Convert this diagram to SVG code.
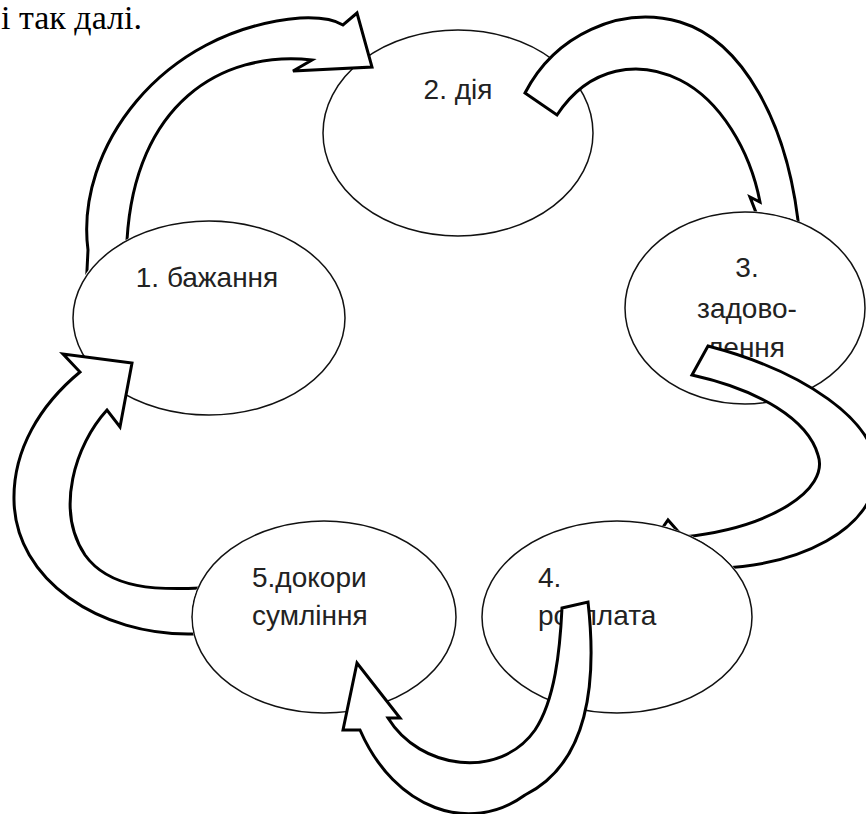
<svg xmlns="http://www.w3.org/2000/svg" width="866" height="814" viewBox="0 0 866 814">
<style>
.node ellipse{fill:#fff;stroke:#111;stroke-width:1.5}
.lbl{font-family:"Liberation Sans",Arial,sans-serif;font-size:28px;fill:#222}
.arr path{fill:#fff;stroke:#000;stroke-width:3;stroke-linejoin:miter}
.title{font-family:"Liberation Serif","Times New Roman",serif;font-size:34px;fill:#000}
</style>
<defs>
<clipPath id="c1"><path clip-rule="evenodd" d="M0,0H866V814H0Z M71,318 a138,98 0 1,0 276,0 a138,98 0 1,0 -276,0Z"/></clipPath>
<clipPath id="c3"><path clip-rule="evenodd" d="M0,0H866V814H0Z M624,308 a121,97 0 1,0 242,0 a121,97 0 1,0 -242,0Z"/></clipPath>
<clipPath id="c4"><path clip-rule="evenodd" d="M0,0H866V814H0Z M481,617 a136,97 0 1,0 272,0 a136,97 0 1,0 -272,0Z"/></clipPath>
<clipPath id="c5"><path clip-rule="evenodd" d="M0,0H866V814H0Z M191,617 a133,97 0 1,0 266,0 a133,97 0 1,0 -266,0Z"/></clipPath>
</defs>
<rect width="866" height="814" fill="#fff"/>
<text class="title" x="1" y="29">і так далі.</text>
<g id="node2" class="node"><ellipse cx="458" cy="133" rx="135" ry="103"/><text class="lbl" x="458" y="99" text-anchor="middle">2. дія</text></g>
<g id="node1" class="node"><ellipse cx="209" cy="318" rx="136" ry="97"/><text class="lbl" x="207" y="287" text-anchor="middle">1. бажання</text></g>
<g id="node3" class="node"><ellipse cx="745" cy="308" rx="120" ry="96"/><text class="lbl" x="747" y="277" text-anchor="middle">3.</text><text class="lbl" x="747" y="318" text-anchor="middle">задово-</text><text class="lbl" x="746" y="357" text-anchor="middle">лення</text></g>
<g id="node4" class="node"><ellipse cx="617" cy="617" rx="135" ry="96"/><text class="lbl" x="538" y="587">4.</text><text class="lbl" x="538" y="625">розплата</text></g>
<g id="node5" class="node"><ellipse cx="324" cy="617" rx="132" ry="96"/><text class="lbl" x="252" y="587">5.докори</text><text class="lbl" x="252" y="625">сумління</text></g>
<g id="connectors" class="arr">
<path clip-path="url(#c1)" d="M86,290 L88,250 C75,150 160,30 300,18 C320,17 335,20 343,25 L357,13 L372,67 L293,71 L312,60 C220,50 135,105 127,240 L126,290 Z"/>
<path clip-path="url(#c3)" d="M525,93 C555,35 620,5 680,22 C740,40 790,120 800,240 L830,250 L790,300 L750,197 L760,202 C750,150 720,100 680,80 C640,60 590,65 557,115 Z"/>
<path clip-path="url(#c4)" d="M708,346 C800,370 880,420 876,475 C872,530 800,565 720,568 L725,592 L640,560 L668,520 L683,537 C770,528 830,490 818,455 C808,420 760,390 692,375 Z"/>
<path d="M562,608 L588,602 C598,690 585,765 525,795 C470,835 395,810 360,730 L343,730 L357,663 L400,718 L388,718 C420,770 500,780 535,730 C555,700 560,650 562,608 Z"/>
<path clip-path="url(#c5)" d="M215,634 L193,634 C100,636 15,580 14,500 C13,450 40,405 80,372 L63,354 L132,363 L120,427 L107,410 C75,445 55,510 85,555 C110,590 160,590 200,588 L215,588 Z"/>
</g>
</svg>
